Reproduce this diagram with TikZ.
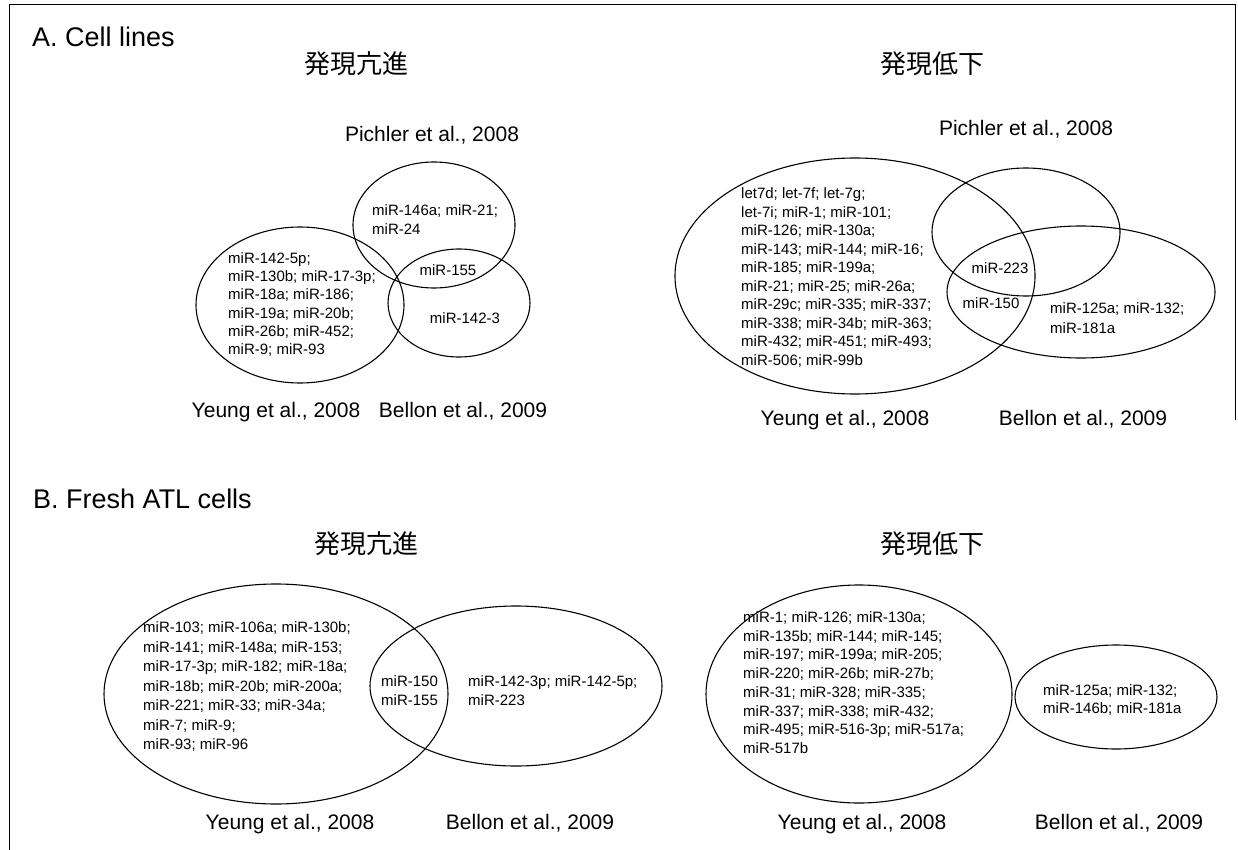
\documentclass[tikz,border=0pt]{standalone}
\usepackage{fontspec}
\setmainfont{Liberation Sans}
\newfontfamily\jp{Noto Sans CJK JP}
\begin{document}
\begin{tikzpicture}[x=1pt,y=-1pt,
  heading/.style={font=\fontsize{27}{32}\selectfont, anchor=base west, inner sep=0pt},
  jph/.style={font=\jp\fontsize{26}{30}\selectfont, inner sep=0pt},
  cite/.style={font=\fontsize{21}{25}\selectfont, anchor=base, inner sep=0pt},
  mir/.style={font=\fontsize{15}{18.5}\selectfont, align=left, anchor=north west, inner sep=0pt},
  mirB/.style={font=\fontsize{15}{19.5}\selectfont, align=left, anchor=north west, inner sep=0pt},
  mirC/.style={font=\fontsize{15}{18.7}\selectfont, align=left, anchor=north west, inner sep=0pt},
  mirone/.style={font=\fontsize{15}{18}\selectfont, inner sep=0pt},
  venn/.style={line width=1.1pt},
  frame/.style={line width=0.9pt}]
\useasboundingbox (0,0) rectangle (1238,850);
% frame
\draw[frame] (9,850) -- (9,4) -- (1235,4) -- (1235,420);

% headings
\node[heading] (hA) at (32,47) {A. Cell lines};
\node[heading] (hB) at (33,508) {B. Fresh ATL cells};
\node[jph] (jA1) at (356,64) {発現亢進};
\node[jph] (jA2) at (932,64) {発現低下};
\node[jph] (jB1) at (366,544) {発現亢進};
\node[jph] (jB2) at (932,544) {発現低下};

% ---------- A left ----------
\draw[venn] (434,225) ellipse [x radius=81pt, y radius=63pt];
\draw[venn] (300,305) ellipse [x radius=104pt, y radius=78pt];
\draw[venn] (459,303) ellipse [x radius=71pt, y radius=54pt];
\node[cite] (pA1) at (432,141.5) {Pichler et al., 2008};
\node[cite] (yA1) at (276,417.5) {Yeung et al., 2008};
\node[cite] (bA1) at (463,417.5) {Bellon et al., 2009};
\node[mir, font=\fontsize{15}{18.2}\selectfont] (tA1y) at (228,252.5) {miR-142-5p;\\miR-130b; miR-17-3p;\\miR-18a; miR-186;\\miR-19a; miR-20b;\\miR-26b; miR-452;\\miR-9; miR-93};
\node[mir] (tA1p) at (372,204.5) {miR-146a; miR-21;\\miR-24};
\node[mirone] (tA1pb) at (448,270) {miR-155};
\node[mirone] (tA1b) at (465,318) {miR-142-3};

% ---------- A right ----------
\draw[venn] (855,276) ellipse [x radius=180pt, y radius=118pt];
\draw[venn] (1026,232) ellipse [x radius=94pt, y radius=64pt];
\draw[venn] (1081,292) ellipse [x radius=134pt, y radius=66pt];
\node[cite] (pA2) at (1026,135.5) {Pichler et al., 2008};
\node[cite] (yA2) at (845,425.5) {Yeung et al., 2008};
\node[cite] (bA2) at (1083,425.5) {Bellon et al., 2009};
\node[mir] (tA2y) at (741,187.5) {let7d; let-7f; let-7g;\\let-7i; miR-1; miR-101;\\miR-126; miR-130a;\\miR-143; miR-144; miR-16;\\miR-185; miR-199a;\\miR-21; miR-25; miR-26a;\\miR-29c; miR-335; miR-337;\\miR-338; miR-34b; miR-363;\\miR-432; miR-451; miR-493;\\miR-506; miR-99b};
\node[mirone] (tA2ypb) at (1000,268) {miR-223};
\node[mirone] (tA2yb) at (991,303) {miR-150};
\node[mir, font=\fontsize{15}{19.5}\selectfont] (tA2b) at (1050,302.5) {miR-125a; miR-132;\\miR-181a};

% ---------- B left ----------
\draw[venn] (276,694) ellipse [x radius=172pt, y radius=110pt];
\draw[venn] (516,686) ellipse [x radius=146pt, y radius=80pt];
\node[cite] (yB1) at (290,829.5) {Yeung et al., 2008};
\node[cite] (bB1) at (530,829.5) {Bellon et al., 2009};
\node[mirB] (tB1y) at (143,621.5) {miR-103; miR-106a; miR-130b;\\miR-141; miR-148a; miR-153;\\miR-17-3p; miR-182; miR-18a;\\miR-18b; miR-20b; miR-200a;\\miR-221; miR-33; miR-34a;\\miR-7; miR-9;\\miR-93; miR-96};
\node[mir, font=\fontsize{15}{19}\selectfont] (tB1yb) at (381,675.5) {miR-150\\miR-155};
\node[mir, font=\fontsize{15}{19}\selectfont] (tB1b) at (468,675.5) {miR-142-3p; miR-142-5p;\\miR-223};

% ---------- B right ----------
\draw[venn] (859,694) ellipse [x radius=153pt, y radius=109pt];
\draw[venn] (1116,697) ellipse [x radius=101pt, y radius=52pt];
\node[cite] (yB2) at (862,829.5) {Yeung et al., 2008};
\node[cite] (bB2) at (1119,829.5) {Bellon et al., 2009};
\node[mirC] (tB2y) at (743,611.5) {miR-1; miR-126; miR-130a;\\miR-135b; miR-144; miR-145;\\miR-197; miR-199a; miR-205;\\miR-220; miR-26b; miR-27b;\\miR-31; miR-328; miR-335;\\miR-337; miR-338; miR-432;\\miR-495; miR-516-3p; miR-517a;\\miR-517b};
\node[mir, font=\fontsize{15}{18}\selectfont] (tB2b) at (1043,684.5) {miR-125a; miR-132;\\miR-146b; miR-181a};
\end{tikzpicture}
\end{document}
